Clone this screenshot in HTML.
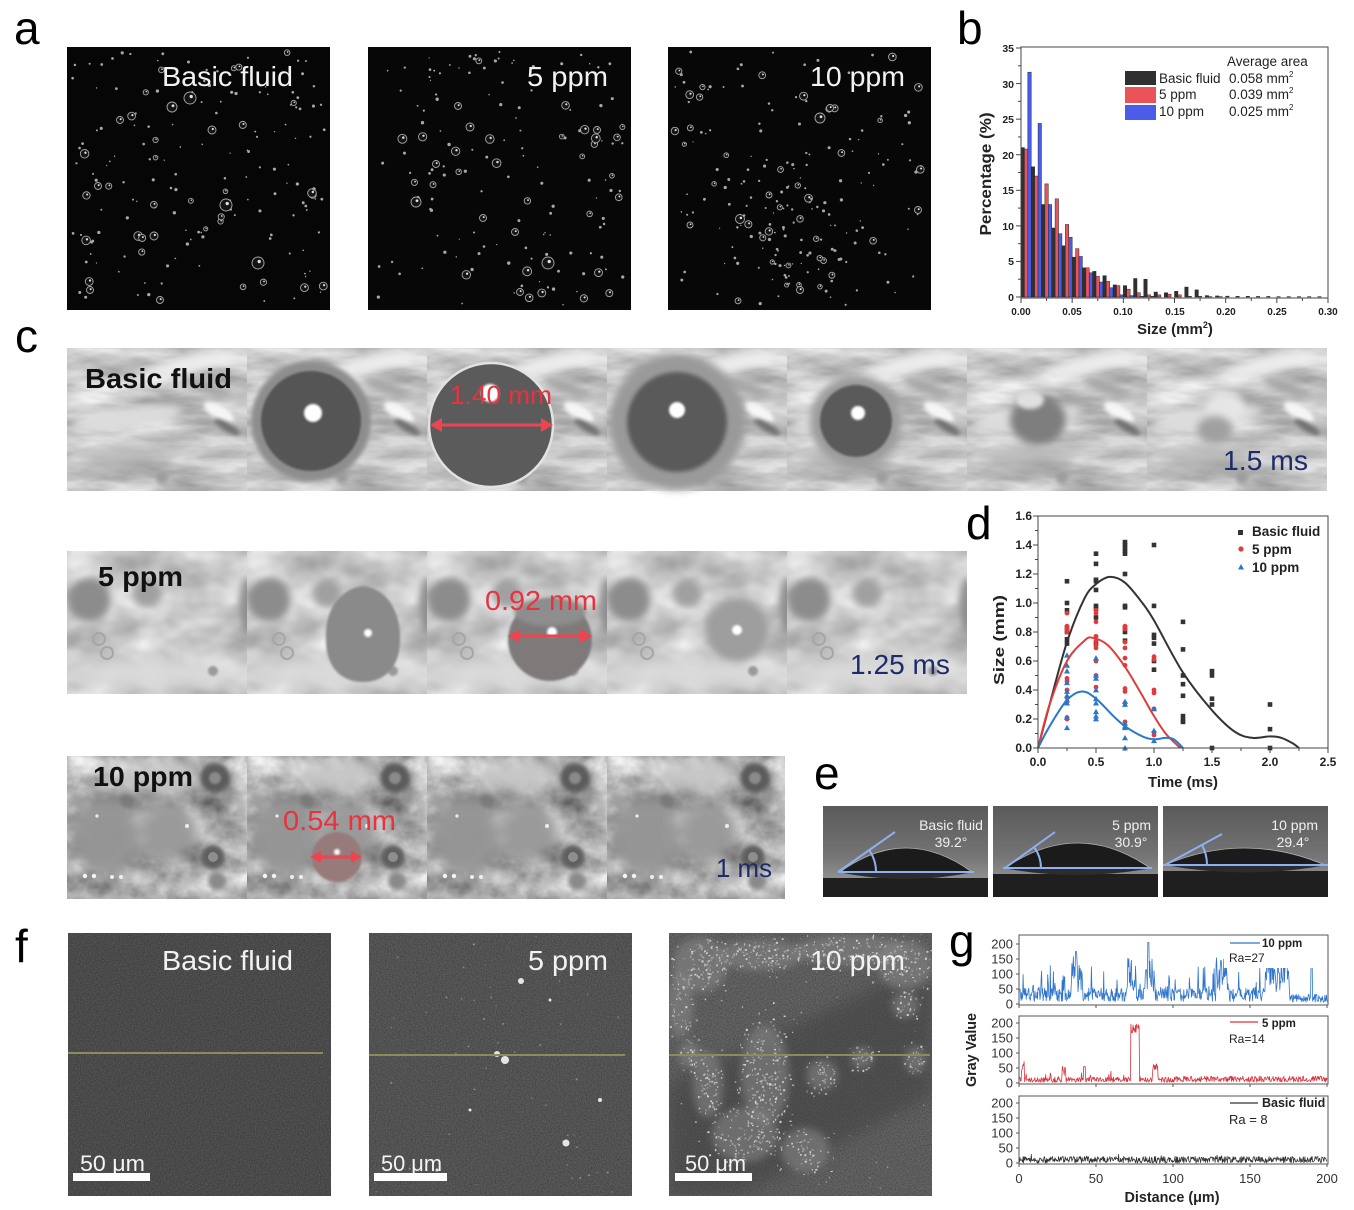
<!DOCTYPE html>
<html><head><meta charset="utf-8">
<style>
html,body{margin:0;padding:0;background:#fff;overflow:hidden}
svg{display:block}
text{font-family:"Liberation Sans",Arial,sans-serif}
.b{font-weight:bold}
</style></head>
<body>
<svg id="s" xmlns="http://www.w3.org/2000/svg" width="1354" height="1210" viewBox="0 0 1354 1210">
<defs>
<filter id="bl1" x="-50%" y="-50%" width="200%" height="200%"><feGaussianBlur stdDeviation="1"/></filter>
<filter id="bl2" x="-50%" y="-50%" width="200%" height="200%"><feGaussianBlur stdDeviation="2"/></filter>
<filter id="bl4" x="-50%" y="-50%" width="200%" height="200%"><feGaussianBlur stdDeviation="4"/></filter>
<filter id="bl8" x="-50%" y="-50%" width="200%" height="200%"><feGaussianBlur stdDeviation="8"/></filter>
<filter id="tx1" filterUnits="userSpaceOnUse" x="0" y="0" width="180" height="143" color-interpolation-filters="sRGB"><feTurbulence type="fractalNoise" baseFrequency="0.012 0.045" numOctaves="4" seed="7"/><feColorMatrix type="matrix" values="0.6 0 0 0 0.48  0.6 0 0 0 0.48  0.6 0 0 0 0.48  0 0 0 0 1"/></filter>
<filter id="tx2" filterUnits="userSpaceOnUse" x="0" y="0" width="180" height="143" color-interpolation-filters="sRGB"><feTurbulence type="fractalNoise" baseFrequency="0.02 0.03" numOctaves="3" seed="11"/><feColorMatrix type="matrix" values="0.45 0 0 0 0.57  0.45 0 0 0 0.57  0.45 0 0 0 0.57  0 0 0 0 1"/></filter>
<filter id="tx3" filterUnits="userSpaceOnUse" x="0" y="0" width="180" height="143" color-interpolation-filters="sRGB"><feTurbulence type="fractalNoise" baseFrequency="0.03 0.035" numOctaves="4" seed="5"/><feColorMatrix type="matrix" values="0.7 0 0 0 0.33  0.7 0 0 0 0.33  0.7 0 0 0 0.33  0 0 0 0 1"/></filter>
<filter id="tf1" filterUnits="userSpaceOnUse" x="0" y="0" width="263" height="263" color-interpolation-filters="sRGB"><feTurbulence type="fractalNoise" baseFrequency="0.8" numOctaves="1" seed="3"/><feColorMatrix type="matrix" values="0.2 0 0 0 0.19  0.2 0 0 0 0.19  0.2 0 0 0 0.19  0 0 0 0 1"/></filter>
<filter id="tf2" filterUnits="userSpaceOnUse" x="0" y="0" width="263" height="263" color-interpolation-filters="sRGB"><feTurbulence type="fractalNoise" baseFrequency="0.8" numOctaves="1" seed="4"/><feColorMatrix type="matrix" values="0.22 0 0 0 0.21  0.22 0 0 0 0.21  0.22 0 0 0 0.21  0 0 0 0 1"/></filter>
<filter id="tf3" filterUnits="userSpaceOnUse" x="0" y="0" width="263" height="263" color-interpolation-filters="sRGB"><feTurbulence type="fractalNoise" baseFrequency="0.8" numOctaves="1" seed="9"/><feColorMatrix type="matrix" values="0.24 0 0 0 0.24  0.24 0 0 0 0.24  0.24 0 0 0 0.24  0 0 0 0 1"/></filter>
<clipPath id="cf"><rect x="0" y="0" width="180" height="143"/></clipPath>
<clipPath id="cf3"><rect x="669" y="933" width="263" height="263"/></clipPath>
<linearGradient id="eg" x1="0" y1="0" x2="0" y2="1"><stop offset="0" stop-color="#5a5a5a"/><stop offset="0.55" stop-color="#747474"/><stop offset="0.78" stop-color="#8e8e8e"/><stop offset="1" stop-color="#8e8e8e"/></linearGradient>

<g id="r1" clip-path="url(#cf)">
 <rect x="0" y="0" width="180" height="143" filter="url(#tx1)"/>
 <ellipse cx="125" cy="16" rx="50" ry="8" transform="rotate(-12 125 16)" fill="#ececec" filter="url(#bl4)"/>
 <ellipse cx="60" cy="70" rx="55" ry="10" transform="rotate(-8 60 70)" fill="#dcdcdc" filter="url(#bl4)"/>
 <ellipse cx="60" cy="108" rx="45" ry="10" fill="#b0b0b0" filter="url(#bl8)"/>
 <ellipse cx="152" cy="64" rx="17" ry="7" transform="rotate(30 152 64)" fill="#f6f6f6" filter="url(#bl2)"/>
 <ellipse cx="160" cy="79" rx="15" ry="4" transform="rotate(30 160 79)" fill="#707070" filter="url(#bl2)"/>
 <ellipse cx="140" cy="40" rx="25" ry="6" transform="rotate(20 140 40)" fill="#a4a4a4" filter="url(#bl4)"/>
 <circle cx="95" cy="130" r="6" fill="#9c9c9c" filter="url(#bl2)"/>
</g>
<g id="r2" clip-path="url(#cf)">
 <rect x="0" y="0" width="180" height="143" filter="url(#tx2)"/>
 <ellipse cx="90" cy="122" rx="95" ry="14" fill="#dadada" filter="url(#bl8)"/>
 <circle cx="22" cy="49" r="22" fill="#8c8c8c" filter="url(#bl4)"/>
 <circle cx="80" cy="42" r="15" fill="#a0a0a0" filter="url(#bl4)"/>
 <ellipse cx="180" cy="55" rx="8" ry="30" fill="#8e8e8e" filter="url(#bl4)"/>
 <circle cx="32" cy="88" r="6" fill="none" stroke="#a6a6a6" stroke-width="2"/>
 <circle cx="40" cy="102" r="6" fill="none" stroke="#a6a6a6" stroke-width="2"/>
 <circle cx="146" cy="120" r="5" fill="#9a9a9a" filter="url(#bl1)"/>
</g>
<g id="r3" clip-path="url(#cf)">
 <rect x="0" y="0" width="180" height="143" filter="url(#tx3)"/>
 <ellipse cx="40" cy="80" rx="35" ry="40" fill="#959595" filter="url(#bl8)"/>
 <ellipse cx="100" cy="75" rx="30" ry="30" fill="#9a9a9a" filter="url(#bl8)"/>
 <ellipse cx="90" cy="20" rx="40" ry="15" fill="#c8c8c8" filter="url(#bl8)"/>
 <circle cx="148" cy="22" r="15" fill="#5c5c5c" filter="url(#bl2)"/>
 <circle cx="148" cy="22" r="6" fill="#8a8a8a" filter="url(#bl1)"/>
 <circle cx="146" cy="101" r="12" fill="#5e5e5e" filter="url(#bl2)"/>
 <circle cx="146" cy="101" r="5" fill="#8e8e8e"/>
 <circle cx="150" cy="125" r="9" fill="#8a8a8a" filter="url(#bl2)"/>
 <circle cx="60" cy="45" r="6" fill="#7a7a7a" filter="url(#bl2)"/>
 <circle cx="18" cy="120" r="2.2" fill="#f4f4f4"/><circle cx="27" cy="120" r="2.2" fill="#f4f4f4"/><circle cx="45" cy="121" r="2" fill="#eee"/><circle cx="54" cy="121" r="2" fill="#eee"/>
 <circle cx="120" cy="70" r="2" fill="#eee"/><circle cx="30" cy="60" r="1.6" fill="#eee"/>
</g>
</defs>
<rect width="1354" height="1210" fill="#fff"/>

<!-- panel letters -->
<text x="14" y="44" font-size="46">a</text>
<text x="957" y="44" font-size="46">b</text>
<text x="15" y="352" font-size="46">c</text>
<text x="966" y="539" font-size="46">d</text>
<text x="814" y="789" font-size="46">e</text>
<text x="15" y="962" font-size="46">f</text>
<text x="949" y="957" font-size="46">g</text>

<!-- panel a -->
<rect x="67" y="47" width="263" height="263" fill="#060606"/>
<rect x="368" y="47" width="263" height="263" fill="#070707"/>
<rect x="668" y="47" width="263" height="263" fill="#070707"/>
<g id="ga"></g>
<text x="162" y="86" font-size="28" fill="#f2f2f2" textLength="131" lengthAdjust="spacingAndGlyphs">Basic fluid</text>
<text x="527" y="86" font-size="28" fill="#f2f2f2" textLength="81" lengthAdjust="spacingAndGlyphs">5 ppm</text>
<text x="810" y="86" font-size="28" fill="#f2f2f2" textLength="95" lengthAdjust="spacingAndGlyphs">10 ppm</text>

<!-- panel b -->
<g id="gb"></g>
<rect x="1021" y="47" width="307" height="251" fill="none" stroke="#444" stroke-width="1"/>
<g class="b" font-size="10.5" text-anchor="end" fill="#222">
<text x="1014" y="52">35</text><text x="1014" y="88">30</text><text x="1014" y="123">25</text><text x="1014" y="159">20</text><text x="1014" y="194">15</text><text x="1014" y="230">10</text><text x="1014" y="265">5</text><text x="1014" y="301">0</text>
</g>
<g class="b" font-size="10" text-anchor="middle" fill="#222">
<text x="1021" y="315">0.00</text><text x="1072" y="315">0.05</text><text x="1123" y="315">0.10</text><text x="1175" y="315">0.15</text><text x="1226" y="315">0.20</text><text x="1277" y="315">0.25</text><text x="1328" y="315">0.30</text>
</g>
<text class="b" x="1137" y="334" font-size="15" fill="#222">Size (mm<tspan font-size="9" dy="-6">2</tspan><tspan dy="6">)</tspan></text>
<text class="b" transform="translate(991,174) rotate(-90)" text-anchor="middle" font-size="16" fill="#222" textLength="123" lengthAdjust="spacingAndGlyphs">Percentage (%)</text>
<rect x="1125" y="71" width="31" height="14" fill="#303030"/>
<rect x="1125" y="87" width="31" height="16" fill="#ea5458"/>
<rect x="1125" y="105" width="31" height="15" fill="#4a5ce8"/>
<g font-size="13.5" fill="#222">
<text x="1227" y="66">Average area</text>
<text x="1159" y="83">Basic fluid</text>
<text x="1159" y="99">5 ppm</text>
<text x="1159" y="116">10 ppm</text>
<text x="1229" y="83">0.058 mm<tspan font-size="8" dy="-6">2</tspan></text>
<text x="1229" y="99">0.039 mm<tspan font-size="8" dy="-6">2</tspan></text>
<text x="1229" y="116">0.025 mm<tspan font-size="8" dy="-6">2</tspan></text>
</g>

<!-- panel c row 1 -->
<use href="#r1" x="67" y="348"/><use href="#r1" x="247" y="348"/><use href="#r1" x="427" y="348"/><use href="#r1" x="607" y="348"/><use href="#r1" x="787" y="348"/><use href="#r1" x="967" y="348"/><use href="#r1" x="1147" y="348"/>
<rect x="1327" y="348" width="2" height="143" fill="#fff"/>
<circle cx="311" cy="421" r="60" fill="#8e8e8e" filter="url(#bl2)"/>
<circle cx="311" cy="421" r="50" fill="#555" filter="url(#bl1)"/>
<circle cx="313" cy="413" r="9" fill="#fff" filter="url(#bl1)"/>
<circle cx="491" cy="425" r="62" fill="#5b5b5b" stroke="#e2e2e2" stroke-width="2.5"/>
<circle cx="490" cy="393" r="9" fill="#fff" filter="url(#bl1)"/>
<circle cx="677" cy="422" r="68" fill="#9a9a9a" filter="url(#bl4)"/>
<circle cx="677" cy="422" r="50" fill="#5a5a5a" filter="url(#bl2)"/>
<circle cx="677" cy="410" r="8" fill="#fff" filter="url(#bl1)"/>
<circle cx="856" cy="421" r="46" fill="#9c9c9c" filter="url(#bl4)"/>
<circle cx="856" cy="421" r="36" fill="#5a5a5a" filter="url(#bl1)"/>
<circle cx="858" cy="413" r="7" fill="#fff" filter="url(#bl1)"/>
<ellipse cx="1038" cy="420" rx="28" ry="25" fill="#7e7e7e" filter="url(#bl4)"/>
<ellipse cx="1030" cy="400" rx="14" ry="9" fill="#e0e0e0" filter="url(#bl2)"/>
<ellipse cx="1225" cy="408" rx="20" ry="16" fill="#e6e6e6" filter="url(#bl4)"/>
<ellipse cx="1215" cy="430" rx="18" ry="14" fill="#a0a0a0" filter="url(#bl4)"/>
<text class="b" x="85" y="388" font-size="28" fill="#111" textLength="147" lengthAdjust="spacingAndGlyphs">Basic fluid</text>
<text x="450" y="404" font-size="26" fill="#e8323e" textLength="102" lengthAdjust="spacingAndGlyphs">1.40 mm</text>
<line x1="438" y1="425" x2="545" y2="425" stroke="#ee4450" stroke-width="3"/>
<polygon points="430,425 442,418 442,432" fill="#ee4450"/><polygon points="553,425 541,418 541,432" fill="#ee4450"/>
<text x="1223" y="470" font-size="28" fill="#1c2c6a" textLength="85" lengthAdjust="spacingAndGlyphs">1.5 ms</text>

<!-- row 2 -->
<use href="#r2" x="67" y="551"/><use href="#r2" x="247" y="551"/><use href="#r2" x="427" y="551"/><use href="#r2" x="607" y="551"/><use href="#r2" x="787" y="551"/>
<path d="M326,640 C324,608 342,588 363,586 C384,588 401,608 400,640 C400,668 384,682 363,682 C342,682 326,668 326,640 Z" fill="#8a8a8a" filter="url(#bl1)"/>
<circle cx="368" cy="633" r="4" fill="#fff" filter="url(#bl1)"/>
<ellipse cx="550" cy="640" rx="42" ry="41" fill="#7e7a7a" filter="url(#bl1)"/>
<ellipse cx="550" cy="612" rx="36" ry="14" fill="#8e8e8e" filter="url(#bl2)"/>
<circle cx="552" cy="632" r="5" fill="#fff" filter="url(#bl1)"/>
<circle cx="737" cy="630" r="32" fill="#9e9e9e" filter="url(#bl4)"/>
<circle cx="737" cy="630" r="5" fill="#fff" filter="url(#bl1)"/>
<text class="b" x="98" y="586" font-size="28" fill="#111" textLength="85" lengthAdjust="spacingAndGlyphs">5 ppm</text>
<text x="485" y="610" font-size="28" fill="#e8323e" textLength="112" lengthAdjust="spacingAndGlyphs">0.92 mm</text>
<line x1="516" y1="636" x2="584" y2="636" stroke="#ee4450" stroke-width="3"/>
<polygon points="508,636 520,629 520,643" fill="#ee4450"/><polygon points="592,636 580,629 580,643" fill="#ee4450"/>
<text x="850" y="674" font-size="28" fill="#1c2c6a" textLength="100" lengthAdjust="spacingAndGlyphs">1.25 ms</text>

<!-- row 3 -->
<use href="#r3" x="67" y="756"/><use href="#r3" x="247" y="756"/><use href="#r3" x="427" y="756"/><use href="#r3" x="607" y="756"/>
<rect x="785" y="756" width="4" height="143" fill="#fff"/>
<circle cx="337" cy="857" r="25" fill="#977a7a" filter="url(#bl1)"/>
<circle cx="337" cy="852" r="3" fill="#fff" filter="url(#bl1)"/>
<text class="b" x="93" y="786" font-size="28" fill="#111" textLength="100" lengthAdjust="spacingAndGlyphs">10 ppm</text>
<text x="283" y="830" font-size="28" fill="#e8323e" textLength="113" lengthAdjust="spacingAndGlyphs">0.54 mm</text>
<line x1="318" y1="857" x2="354" y2="857" stroke="#ee4450" stroke-width="3"/>
<polygon points="310,857 321,851 321,863" fill="#ee4450"/><polygon points="362,857 351,851 351,863" fill="#ee4450"/>
<text x="716" y="877" font-size="26" fill="#1c2c6a" textLength="56" lengthAdjust="spacingAndGlyphs">1 ms</text>

<!-- panel d -->
<g id="gd"></g>
<rect x="1038" y="516" width="290" height="232" fill="none" stroke="#444" stroke-width="1"/>
<g class="b" font-size="12" text-anchor="end" fill="#222">
<text x="1032" y="520">1.6</text><text x="1032" y="549">1.4</text><text x="1032" y="578">1.2</text><text x="1032" y="607">1.0</text><text x="1032" y="636">0.8</text><text x="1032" y="665">0.6</text><text x="1032" y="694">0.4</text><text x="1032" y="723">0.2</text><text x="1032" y="752">0.0</text>
</g>
<g class="b" font-size="12" text-anchor="middle" fill="#222">
<text x="1038" y="766">0.0</text><text x="1096" y="766">0.5</text><text x="1154" y="766">1.0</text><text x="1212" y="766">1.5</text><text x="1270" y="766">2.0</text><text x="1328" y="766">2.5</text>
</g>
<text class="b" x="1183" y="787" font-size="15" text-anchor="middle" fill="#222" textLength="70" lengthAdjust="spacingAndGlyphs">Time (ms)</text>
<text class="b" transform="translate(1004,640) rotate(-90)" text-anchor="middle" font-size="15" fill="#222" textLength="90" lengthAdjust="spacingAndGlyphs">Size (mm)</text>
<rect x="1238" y="530" width="5" height="5" fill="#333"/>
<circle cx="1241" cy="549" r="2.6" fill="#e23a3a"/>
<polygon points="1241,564 1244,569.5 1238,569.5" fill="#2a78cc"/>
<g class="b" font-size="13.5" fill="#222">
<text x="1252" y="536">Basic fluid</text><text x="1252" y="554">5 ppm</text><text x="1252" y="572">10 ppm</text>
</g>

<!-- panel e -->
<rect x="823" y="806" width="165" height="91" fill="url(#eg)"/>
<rect x="823" y="878" width="165" height="19" fill="#1f1f1f"/>
<path d="M838,872 Q906,886 974,872 Z" fill="#2c2c2c"/>
<path d="M840,872 Q906,824 972,872 Z" fill="#1b1b1b" stroke="#b0b0b0" stroke-width="0.8"/>
<g stroke="#8eb0f0" stroke-width="2" fill="none"><line x1="838" y1="872" x2="974" y2="872"/><line x1="838" y1="872" x2="895" y2="832"/><path d="M869,850 A38,38 0 0 1 876,872"/></g>

<rect x="993" y="806" width="165" height="91" fill="url(#eg)"/>
<rect x="993" y="874" width="165" height="23" fill="#1f1f1f"/>
<path d="M1003,868 Q1078,882 1152,868 Z" fill="#2c2c2c"/>
<path d="M1005,868 Q1078,818 1150,868 Z" fill="#1b1b1b" stroke="#b0b0b0" stroke-width="0.8"/>
<g stroke="#8eb0f0" stroke-width="2" fill="none"><line x1="1003" y1="868" x2="1152" y2="868"/><line x1="1005" y1="868" x2="1055" y2="832"/><path d="M1034,847 A36,36 0 0 1 1041,868"/></g>

<rect x="1163" y="806" width="165" height="91" fill="url(#eg)"/>
<rect x="1163" y="871" width="165" height="26" fill="#1f1f1f"/>
<path d="M1165,865 Q1245,880 1327,865 Z" fill="#2c2c2c"/>
<path d="M1165,865 Q1245,831 1325,865 Z" fill="#1b1b1b" stroke="#b0b0b0" stroke-width="0.8"/>
<g stroke="#8eb0f0" stroke-width="2" fill="none"><line x1="1163" y1="865" x2="1328" y2="865"/><line x1="1165" y1="865" x2="1222" y2="834"/><path d="M1202,845 A42,42 0 0 1 1207,865"/></g>
<g font-size="14" fill="#f0f0f0">
<text x="951" y="830" text-anchor="middle">Basic fluid</text><text x="951" y="847" text-anchor="middle">39.2°</text>
<text x="1151" y="830" text-anchor="end">5 ppm</text><text x="1131" y="847" text-anchor="middle">30.9°</text>
<text x="1318" y="830" text-anchor="end">10 ppm</text><text x="1293" y="847" text-anchor="middle">29.4°</text>
</g>

<!-- panel f -->
<g transform="translate(68,933)"><rect x="0" y="0" width="263" height="263" filter="url(#tf1)"/></g>
<g transform="translate(369,933)"><rect x="0" y="0" width="263" height="263" filter="url(#tf2)"/></g>
<g transform="translate(669,933)"><rect x="0" y="0" width="263" height="263" filter="url(#tf3)"/></g>
<g clip-path="url(#cf3)">
<polygon points="669,1085 669,1196 740,1196 932,1095 932,985 880,985" fill="#3c3c3c" opacity="0.5" filter="url(#bl8)"/>
<g id="gp"></g>
</g>
<g id="gf"></g>
<line x1="68" y1="1053" x2="323" y2="1053" stroke="#8c8c58" stroke-width="2"/>
<line x1="369" y1="1055" x2="625" y2="1055" stroke="#8c8c58" stroke-width="2"/>
<line x1="669" y1="1055" x2="930" y2="1055" stroke="#8c8c58" stroke-width="2"/>
<g fill="#f2f2f2" font-size="28">
<text x="162" y="970" textLength="131" lengthAdjust="spacingAndGlyphs">Basic fluid</text>
<text x="528" y="970" textLength="80" lengthAdjust="spacingAndGlyphs">5 ppm</text>
<text x="810" y="970" textLength="95" lengthAdjust="spacingAndGlyphs">10 ppm</text>
</g>
<g fill="#f4f4f4" font-size="22">
<text x="80" y="1171" textLength="65" lengthAdjust="spacingAndGlyphs">50 μm</text>
<text x="381" y="1171" textLength="61" lengthAdjust="spacingAndGlyphs">50 μm</text>
<text x="685" y="1171" textLength="61" lengthAdjust="spacingAndGlyphs">50 μm</text>
</g>
<rect x="73" y="1173" width="77" height="8" fill="#fff"/>
<rect x="374" y="1173" width="73" height="8" fill="#fff"/>
<rect x="675" y="1173" width="77" height="8" fill="#fff"/>

<!-- panel g -->
<g id="gg"></g>
<g fill="none" stroke="#555" stroke-width="1">
<rect x="1019" y="935" width="309" height="70"/>
<rect x="1019" y="1016" width="309" height="68"/>
<rect x="1019" y="1096" width="309" height="68"/>
</g>
<g font-size="13" text-anchor="end" fill="#333">
<text x="1013" y="948.5">200</text><text x="1013" y="963.5">150</text><text x="1013" y="978.5">100</text><text x="1013" y="993.5">50</text><text x="1013" y="1008.5">0</text>
<text x="1013" y="1027.5">200</text><text x="1013" y="1042.5">150</text><text x="1013" y="1057.5">100</text><text x="1013" y="1072.5">50</text><text x="1013" y="1087.5">0</text>
<text x="1013" y="1107.5">200</text><text x="1013" y="1122.5">150</text><text x="1013" y="1137.5">100</text><text x="1013" y="1152.5">50</text><text x="1013" y="1167.5">0</text>
</g>
<g font-size="13" text-anchor="middle" fill="#333">
<text x="1019" y="1183">0</text><text x="1096" y="1183">50</text><text x="1173" y="1183">100</text><text x="1250" y="1183">150</text><text x="1327" y="1183">200</text>
</g>
<text class="b" x="1172" y="1202" font-size="14.5" text-anchor="middle" fill="#222" textLength="95" lengthAdjust="spacingAndGlyphs">Distance (μm)</text>
<text class="b" transform="translate(976,1050) rotate(-90)" text-anchor="middle" font-size="14.5" fill="#222" textLength="74" lengthAdjust="spacingAndGlyphs">Gray Value</text>
<rect x="1224" y="938" width="102" height="30" fill="#fff"/>
<rect x="1224" y="1018" width="102" height="30" fill="#fff"/>
<line x1="1230" y1="943" x2="1260" y2="943" stroke="#2f74cc" stroke-width="1.2"/>
<line x1="1230" y1="1022" x2="1258" y2="1022" stroke="#d9353f" stroke-width="1.2"/>
<line x1="1230" y1="1103" x2="1258" y2="1103" stroke="#333" stroke-width="1.2"/>
<g fill="#222">
<text class="b" x="1262" y="947" font-size="11.5">10 ppm</text>
<text x="1229" y="962" font-size="12">Ra=27</text>
<text class="b" x="1262" y="1027" font-size="11.5">5 ppm</text>
<text x="1229" y="1043" font-size="12">Ra=14</text>
<text class="b" x="1262" y="1107" font-size="12.5">Basic fluid</text>
<text x="1229" y="1124" font-size="13">Ra = 8</text>
</g>
</svg>
<script>
(function(){
var NS="http://www.w3.org/2000/svg";
function E(t,a,p){var e=document.createElementNS(NS,t);for(var k in a)e.setAttribute(k,a[k]);p.appendChild(e);return e;}
var S=12345;function R(){S=(S*16807)%2147483647;return (S-1)/2147483646;}
function G(id){return document.getElementById(id);}

/* panel a bubbles */
var ga=G('ga');
function big(x,y,r){E('circle',{cx:x,cy:y,r:r,fill:'#141414',stroke:'#a8a8a8','stroke-width':0.9},ga);E('circle',{cx:x+r*0.2,cy:y-r*0.25,r:Math.max(0.7,r*0.28),fill:'#e0e0e0'},ga);}
function bub(x0,n,pb,maxr,cx,cy,sp){
 for(var i=0;i<n;i++){
  var x,y;
  if(sp){x=cx+(R()+R()-1)*sp;y=cy+(R()+R()-1)*sp;}else{x=x0+5+R()*253;y=52+R()*253;}
  if(x<x0+4||x>x0+259||y<51||y>306)continue;
  if(R()<pb){big(x,y,2+R()*maxr);}
  else{E('circle',{cx:x,cy:y,r:0.6+R()*1.1,fill:'#a8a8a8'},ga);}
 }
}
bub(67,170,0.2,2.5);
[[190,98,6],[172,107,5],[226,205,6],[258,263,6],[212,130,4],[154,236,4],[98,186,3.5],[120,120,3.5],[160,300,3.5],[90,290,3.5]].forEach(function(b){big(b[0],b[1],b[2]);});
bub(368,150,0.2,2.5);
[[548,263,6],[416,202,5],[470,127,4],[436,164,3.5],[597,130,3.5],[483,218,3.5],[520,292,3.5],[458,106,3.5],[515,232,3.5]].forEach(function(b){big(b[0],b[1],b[2]);});
bub(668,110,0.18,2);
bub(668,90,0.18,1.8,790,225,95);
[[740,219,4.5],[820,118,5],[830,108,3.5],[918,210,3.5],[769,195,3],[800,290,3.5],[690,225,3]].forEach(function(b){big(b[0],b[1],b[2]);});

/* panel b bars */
var gb=G('gb');
var bk=[21,18.3,13,9.7,7.2,5.6,4.1,3.6,3.0,1.7,1.6,2.6,2.5,0.7,0.6,0.8,1.4,1.0,0.2,0.15,0.12,0.1,0.1,0.08,0.08,0.05,0.05,0.05,0.05,0.05];
var rd=[20.8,17,15.9,13.8,10.2,6.8,4.1,2.9,2.2,1.6,1.1,0.6,0.3,0.3,0.4,0.3,0.1,0.1,0.05,0.05,0,0,0,0,0,0,0,0,0,0];
var bl=[31.6,24.4,13,8.9,8.4,5.7,3.4,2.1,1.3,0.3,0.2,0.1,0.1,0,0,0,0,0,0,0,0,0,0,0,0,0,0,0,0,0];
var bw=307/30,w3=bw/3;
function bar(x,v,c){if(v<=0)return;var h=v*7.114;E('rect',{x:x.toFixed(2),y:(297-h).toFixed(2),width:w3.toFixed(2),height:h.toFixed(2),fill:c,stroke:'#2a2a2a','stroke-width':0.5},gb);}
for(var i=0;i<30;i++){var x0=1021+i*bw;bar(x0,bk[i],'#303030');bar(x0+w3,rd[i],'#e8545a');bar(x0+2*w3,bl[i],'#4a5ce8');}
for(var v=0;v<=35;v+=2.5){var y=297-v*7.114;E('line',{x1:(v%5==0)?1016:1018,y1:y,x2:1021,y2:y,stroke:'#444','stroke-width':1},gb);}
for(var k=0;k<=12;k++){var x=1021+k*307/12;E('line',{x1:x,y1:298,x2:x,y2:(k%2==0)?303:301,stroke:'#444','stroke-width':1},gb);}

/* panel d */
var gd=G('gd');
function X(t){return 1038+t*116;}function Y(s){return 748-s*145;}
for(var v=0;v<=16;v++){var y=Y(v/10);E('line',{x1:(v%2==0)?1033:1035,y1:y,x2:1038,y2:y,stroke:'#444','stroke-width':1},gd);}
for(var k=0;k<=10;k++){var x=X(k*0.25);E('line',{x1:x,y1:748,x2:x,y2:(k%2==0)?753:751,stroke:'#444','stroke-width':1},gd);}
function curve(pts,col){
 var P=pts.map(function(p){return [X(p[0]),Y(p[1])];});
 var d='M'+P[0][0].toFixed(1)+','+P[0][1].toFixed(1);
 for(var i=0;i<P.length-1;i++){
  var p0=P[i-1]||P[i],p1=P[i],p2=P[i+1],p3=P[i+2]||P[i+1];
  var c1=[p1[0]+(p2[0]-p0[0])/6,p1[1]+(p2[1]-p0[1])/6],c2=[p2[0]-(p3[0]-p1[0])/6,p2[1]-(p3[1]-p1[1])/6];
  d+=' C'+c1[0].toFixed(1)+','+c1[1].toFixed(1)+' '+c2[0].toFixed(1)+','+c2[1].toFixed(1)+' '+p2[0].toFixed(1)+','+p2[1].toFixed(1);
 }
 E('path',{d:d,fill:'none',stroke:col,'stroke-width':2},gd);
}
var sb={0.25:[1.15,1.0,0.95,0.83,0.8,0.75,0.72],0.5:[1.34,1.27,1.16,1.15,1.09,0.98,0.96,0.9,0.72],0.75:[1.42,1.40,1.38,1.36,1.34,1.2,0.98,0.97,0.83,0.8,0.74],1.0:[1.4,0.98,0.78,0.76,0.72,0.6,0.54],1.25:[0.87,0.68,0.5,0.44,0.36,0.22,0.19,0.18],1.5:[0.53,0.5,0.34,0.3,0.0],2.0:[0.3,0.13,0.0]};
var sr={0.25:[0.93,0.84,0.82,0.8,0.48,0.46,0.4,0.35,0.32,0.21,0.2],0.5:[0.95,0.93,0.87,0.77,0.74,0.71,0.69,0.6,0.5,0.42],0.75:[0.84,0.82,0.73,0.69,0.62,0.57,0.41,0.39,0.31,0.18],1.0:[0.63,0.61,0.4,0.38,0.27,0.11,0.09]};
var sbl={0.25:[0.64,0.57,0.53,0.45,0.39,0.36,0.33,0.31,0.21,0.14],0.5:[0.62,0.5,0.48,0.4,0.34,0.31,0.25,0.22,0.2],0.75:[0.32,0.3,0.17,0.15,0.14,0.07,0.0],1.0:[0.27,0.12,0.05]};
var t,j;
for(t in sb)for(j=0;j<sb[t].length;j++)E('rect',{x:X(+t)-2.3,y:Y(sb[t][j])-2.3,width:4.6,height:4.6,fill:'#333'},gd);
for(t in sr)for(j=0;j<sr[t].length;j++)E('circle',{cx:X(+t),cy:Y(sr[t][j]),r:2.4,fill:'#e23a3a'},gd);
for(t in sbl)for(j=0;j<sbl[t].length;j++){var cx=X(+t),cy=Y(sbl[t][j]);E('polygon',{points:cx+','+(cy-3)+' '+(cx+3)+','+(cy+2.4)+' '+(cx-3)+','+(cy+2.4),fill:'#2a78cc'},gd);}
curve([[0,0],[0.1,0.3],[0.25,0.73],[0.4,1.03],[0.5,1.13],[0.62,1.18],[0.75,1.14],[0.9,1.0],[1.0,0.88],[1.25,0.52],[1.5,0.26],[1.7,0.11],[1.85,0.07],[2.0,0.08],[2.1,0.07],[2.2,0.03],[2.25,0]],'#333');
curve([[0,0],[0.1,0.3],[0.25,0.6],[0.4,0.74],[0.47,0.76],[0.6,0.71],[0.75,0.56],[0.9,0.36],[1.0,0.22],[1.1,0.1],[1.2,0.02],[1.23,0]],'#e03c3c');
curve([[0,0],[0.1,0.15],[0.25,0.33],[0.38,0.39],[0.5,0.34],[0.65,0.22],[0.75,0.15],[0.9,0.08],[1.0,0.06],[1.1,0.07],[1.17,0.06],[1.25,0]],'#2a78cc');

/* panel f speckles */
var gf=G('gf'),gp=G('gp');
function dot(x,y,r,c){E('circle',{cx:x,cy:y,r:r,fill:c},gf);}
for(var i=0;i<50;i++){dot(372+R()*257,936+R()*257,0.5+R()*0.7,'#858585');}
[[505,1060,4],[497,1054,3],[566,1143,3.5],[521,981,3],[600,1100,2],[437,1170,1.5],[550,1000,1.5],[470,1110,1.5]].forEach(function(p){dot(p[0],p[1],p[2],'#e6e6e6');});
var cl=[[700,965,25,25,120],[760,955,40,14,120],[850,950,50,14,140],[905,965,25,22,80],[680,1005,12,30,60],[765,1075,22,45,200],[745,1135,30,25,130],[805,1150,22,20,70],[822,1075,14,14,50],[708,1085,14,30,80],[862,1058,10,10,35],[690,1055,10,12,30],[905,1005,12,12,35],[915,1060,10,12,30]];
cl.forEach(function(c){
 E('ellipse',{cx:c[0],cy:c[1],rx:c[2]*1.1,ry:c[3]*1.1,fill:'#8a8a8a',opacity:0.55,filter:'url(#bl4)'},gp);
 for(var k=0;k<c[4];k++){var x=c[0]+(R()+R()+R()-1.5)*c[2]*1.2,y=c[1]+(R()+R()+R()-1.5)*c[3]*1.2;if(x<670||x>931||y<934||y>1195)continue;E('rect',{x:x.toFixed(1),y:y.toFixed(1),width:(0.8+R()*1.4).toFixed(1),height:(0.8+R()*1.4).toFixed(1),fill:R()<0.4?'#cfcfcf':'#a0a0a0'},gf);}
});
for(var i=0;i<40;i++){dot(672+R()*257,936+R()*257,0.5+R()*0.6,'#969696');}

/* panel g profiles */
var gg=G('gg');
function inr(d,a,b){return d>=a&&d<=b;}
function prof(y0,f,col){var p=[];for(var i=0;i<=600;i++){var d=i/3;var v=f(d);if(v<0)v=0;if(v>205)v=205;p.push((1019+d*1.54).toFixed(1)+','+(y0-v*0.3).toFixed(1));}E('polyline',{points:p.join(' '),fill:'none',stroke:col,'stroke-width':0.8,'stroke-linejoin':'round'},gg);}
for(var s=0;s<3;s++){var yb=[1005,1084,1164][s];for(var k=0;k<=4;k++){var x=1019+k*77;E('line',{x1:x,y1:yb,x2:x,y2:yb+3,stroke:'#555','stroke-width':1},gg);}var y0=[1004,1083,1163][s];for(var k=0;k<=4;k++){var y=y0-k*15;E('line',{x1:1016,y1:y,x2:1019,y2:y,stroke:'#555','stroke-width':1},gg);}}
prof(1004,function(d){var v=8+R()*45;if(R()<0.12)v=50+R()*80;if(inr(d,34,41)||inr(d,70,76)||inr(d,82,88)||inr(d,128,136)||inr(d,160,176))v=40+R()*120;if(inr(d,176,200))v=5+R()*28;if(Math.abs(d-84)<0.4)v=205;if(Math.abs(d-190)<0.5)v=160;if(Math.abs(d-37)<0.4)v=175;return v;},'#2f74cc');
prof(1083,function(d){var v=2+R()*18;if(R()<0.05)v=20+R()*20;if(inr(d,1.5,3.5))v=40+R()*45;if(inr(d,28,30.5))v=25+R()*35;if(inr(d,42,43))v=55;if(inr(d,72.5,78))v=165+R()*32;if(inr(d,87,90))v=40+R()*25;if(d>100)v=3+R()*20;return v;},'#d9353f');
prof(1163,function(d){var v=R()*22;if(R()<0.05)v+=8;return v;},'#333');
})();
</script>
</body></html>
